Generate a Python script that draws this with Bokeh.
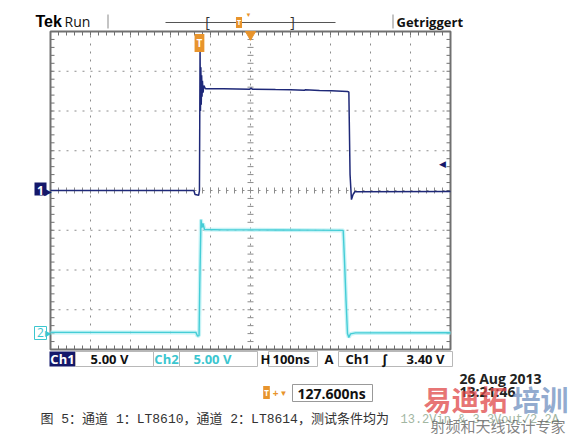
from bokeh.plotting import figure
from bokeh.models import Label, BoxAnnotation, Range1d
from bokeh.embed import file_html
from bokeh.resources import INLINE
import numpy as np

ns_per_div = 100.0            # H 100ns
trigger_to_centre_ns = 127.6  # 127.600ns
volts_per_div = 5.0           # Ch1 / Ch2 5.00 V
ch2_ref_div = -3.57           # Ch2 ground marker, divisions from screen centre
ch1_trig_level = 3.40         # A Ch1 3.40 V

# Channel 1 (LT8610 switch node), time in ns relative to trigger, volts
ch1_t = [-372.4, -14, -11, -2, 0, 1.5, 2.5, 3.5, 4.5, 5.5, 6.5, 7.5, 9, 11, 15,
         60, 126, 129, 132, 190, 228, 262, 264, 300, 330, 370, 373.5, 376.5,
         380, 384, 388.5, 627.6]
ch1_v = [0.0, 0.0, -0.5, -0.6, 0.0, 17.6, 10.0, 15.5, 10.8, 14.5, 11.8, 13.8, 12.3, 13.2, 12.8,
         12.8, 12.75, 12.9, 12.75, 12.7, 12.67, 12.6, 12.66, 12.58, 12.54, 12.45, 12.4, 2.0,
         -1.15, -0.5, -0.15, -0.12]

# Channel 2 (LT8614 switch node)
ch2_t = [-372.4, -9, -4.9, -1, 0.8, 3.8, 6.3, 8.8, 12.6, 60, 127.6, 200, 280, 357.6,
         359.4, 362.6, 366.4, 370.1, 373.4, 377.6, 390.1, 627.6]
ch2_v = [0.0, 0.0, -0.45, -0.4, 6.0, 14.2, 13.2, 13.7, 12.95, 12.9, 12.9, 12.88, 12.86, 12.83,
         12.8, 9.06, 4.0, -0.13, -0.63, -0.19, -0.06, -0.05]

# ---------------- layout of the screen ----------------
W, H = 573, 436
GX0, GX1, GY0, GY1 = 50, 450, 31, 349   # graticule box in page pixels

x0 = trigger_to_centre_ns - 5 * ns_per_div
x1 = trigger_to_centre_ns + 5 * ns_per_div
y0, y1 = -4 * volts_per_div, 4 * volts_per_div
kx = (x1 - x0) / (GX1 - GX0)
ky = (y1 - y0) / (GY1 - GY0)

p = figure(width=W, height=H,
           x_range=Range1d(x0 - GX0 * kx, x1 + (W - GX1) * kx),
           y_range=Range1d(y0 - (H - GY1) * ky, y1 + GY0 * ky),
           output_backend="svg", toolbar_location=None,
           x_axis_location=None, y_axis_location=None, min_border=0)
p.grid.visible = False
p.outline_line_color = None
p.background_fill_color = "white"
p.border_fill_color = "white"

x_major = np.arange(x0, x1 + 1, ns_per_div)
x_minor = np.arange(x0, x1 + 1, ns_per_div / 5)
y_major = np.arange(y0, y1 + 0.1, volts_per_div)
y_minor = np.arange(y0, y1 + 0.1, volts_per_div / 5)

GRID = "#8c8c8c"
EDGE = "#707070"
# dotted division lines
p.segment(x0=x_major[1:-1], y0=[y0] * 9, x1=x_major[1:-1], y1=[y1] * 9,
          line_color=GRID, line_dash="2 6", line_width=1)
p.segment(x0=[x0] * 7, y0=y_major[1:-1], x1=[x1] * 7, y1=y_major[1:-1],
          line_color=GRID, line_dash="2 6", line_width=1)
# inward ticks on the frame edges (4 px long)
tx, ty = 4 * kx, 4 * ky
p.segment(x0=x_minor, y0=[y1] * len(x_minor), x1=x_minor, y1=[y1 - ty] * len(x_minor),
          line_color=EDGE, line_width=1)
p.segment(x0=x_minor, y0=[y0] * len(x_minor), x1=x_minor, y1=[y0 + ty] * len(x_minor),
          line_color=EDGE, line_width=1)
p.segment(x0=[x0] * len(y_minor), y0=y_minor, x1=[x0 + tx] * len(y_minor), y1=y_minor,
          line_color=EDGE, line_width=1)
p.segment(x0=[x1] * len(y_minor), y0=y_minor, x1=[x1 - tx] * len(y_minor), y1=y_minor,
          line_color=EDGE, line_width=1)
# centre-line tick marks
p.scatter(x_minor, [0.0] * len(x_minor), marker="dash", angle=np.pi / 2, size=6,
          line_color=GRID, line_width=1)
p.scatter([trigger_to_centre_ns] * len(y_minor), y_minor, marker="dash", size=6,
          line_color=GRID, line_width=1)
# frame
p.quad(left=[x0], right=[x1], bottom=[y0], top=[y1], fill_alpha=0,
       line_color=EDGE, line_width=2)

# ---------------- traces ----------------
ch2_plot = [v + ch2_ref_div * volts_per_div for v in ch2_v]
p.line(ch2_t, ch2_plot, line_color="#aeeef2", line_width=4, line_alpha=0.7)
p.line(ch2_t, ch2_plot, line_color="#45cdd6", line_width=1.4)
p.line(ch1_t, ch1_v, line_color="#1e2878", line_width=1.5)

ORANGE = "#e8942c"
NAVY = "#14186a"
CYAN = "#3cc6cf"

# expansion point marker at top centre
p.scatter([trigger_to_centre_ns], [y1 - 3 * ky], marker="inverted_triangle", size=10,
          fill_color=ORANGE, line_color=ORANGE)


def lab(text, X, Y, size="13px", color="#111", bold=False, align="left",
        font="Open Sans", bg=None, border=None, padding=0, alpha=1.0,
        x_data=None, y_data=None):
    kw = dict(text=text, text_font=font, text_font_size=size, text_color=color,
              text_font_style="bold" if bold else "normal", text_align=align,
              text_baseline="middle", text_alpha=alpha)
    if x_data is None:
        kw.update(x=X, x_units="screen")
    else:
        kw.update(x=x_data, x_units="data")
    if y_data is None:
        kw.update(y=H - Y, y_units="screen")
    else:
        kw.update(y=y_data, y_units="data")
    if bg is not None:
        kw.update(background_fill_color=bg)
    if border is not None:
        kw.update(border_line_color=border)
    if padding:
        kw.update(padding=padding)
    p.add_layout(Label(**kw))


def box(X0, X1, Y0, Y1, fill=None, line=None, lw=1):
    kw = dict(left=X0, right=X1, top=H - Y0, bottom=H - Y1,
              left_units="screen", right_units="screen",
              top_units="screen", bottom_units="screen",
              line_width=lw)
    if fill is None:
        kw.update(fill_alpha=0)
    else:
        kw.update(fill_color=fill, fill_alpha=1)
    if line is None:
        kw.update(line_alpha=0)
    else:
        kw.update(line_color=line, line_alpha=1)
    p.add_layout(BoxAnnotation(**kw))


# ---------------- top status line ----------------
lab("Tek", 35, 21, size="16px", bold=True, font="Liberation Sans", color="#000")
lab("Run", 64, 21, size="14px", color="#111")
box(107, 108, 14, 28, fill="#8a8a8a")
box(165, 335, 21.5, 22.5, fill="#555555")
lab("[", 207, 21, size="14px", align="center", color="#333")
lab("]", 292, 21, size="14px", align="center", color="#333")
lab("T", 238.5, 22, size="7px", bold=True, align="center", color="white", bg=ORANGE, padding=1)
lab("▼", 248, 14, size="6px", align="center", color=ORANGE)
box(392, 393, 14, 28, fill="#8a8a8a")
lab("Getriggert", 396, 21, size="13px", bold=True, color="#111")

# trigger-point marker in the graticule
lab("T", 0, 42.5, size="10px", bold=True, align="center", color="white", bg=ORANGE,
    padding=2, x_data=0.0)

# channel ground markers (boxes + pointer)
box(34, 46, 182, 195, fill=NAVY)
lab("1", 40, 0, size="12px", bold=True, align="center", color="white", y_data=0.0)
lab("▶", 47, 0, size="10px", align="center", color=NAVY, y_data=0.0)
box(34, 46, 326, 339, fill="white", line=CYAN)
lab("2", 40, 0, size="12px", align="center", color=CYAN,
    y_data=ch2_ref_div * volts_per_div)
lab("▶", 47.5, 0, size="8px", align="center", color=CYAN, y_data=ch2_ref_div * volts_per_div)
# ch1 trigger level arrow
lab("◀", 442, 0, size="9px", align="center", color=NAVY, y_data=ch1_trig_level)

# ---------------- bottom status bar ----------------
box(49, 75, 351, 366, fill=NAVY)
box(75, 153, 351, 366, line="#b8b8b8")
box(153, 179, 351, 366, line="#b8b8b8")
box(179, 257, 351, 366, line="#b8b8b8")
box(268, 317, 351, 366, line="#b8b8b8")
box(338, 452, 351, 366, line="#b8b8b8")
lab("Ch1", 62, 358.5, size="13px", bold=True, align="center", color="white")
lab("5.00 V", 90, 358.5, size="13px", bold=True, color="#111")
lab("Ch2", 166, 358.5, size="13px", bold=True, align="center", color=CYAN)
lab("5.00 V", 193, 358.5, size="13px", bold=True, color=CYAN)
lab("H", 260, 358.5, size="13px", bold=True, color="#111")
lab("100ns", 272, 358.5, size="13px", bold=True, color="#111")
lab("A", 324, 358.5, size="13px", bold=True, color="#111")
lab("Ch1", 345, 358.5, size="13px", bold=True, color="#111")
lab("∫", 384, 358.5, size="13px", bold=True, align="center", color="#111")
lab("3.40 V", 406, 358.5, size="13px", bold=True, color="#111")

lab("T", 266, 392, size="8px", bold=True, align="center", color="white", bg=ORANGE, padding=1)
lab("+", 275, 392, size="10px", bold=True, align="center", color=ORANGE)
lab("▼", 283, 392, size="8px", align="center", color=ORANGE)
box(292, 372, 384, 401, line="#999999")
lab("127.600ns", 297, 392.5, size="14px", bold=True, color="#111")
lab("26 Aug 2013", 459, 378, size="14px", bold=True, color="#222")
lab("13:21:46", 459, 391, size="14px", bold=True, color="#222")

# ---------------- caption & watermark ----------------
CAP_FONT = "'Liberation Mono', 'Noto Sans CJK SC'"
lab("图 5：通道 1：LT8610，通道 2：LT8614，测试条件均为", 40, 419, size="13px",
    color="#333", font=CAP_FONT)
lab("13.2Vin & 3.3Vout/2.2A", 400, 419, size="12px", color="#a2b6a2", font=CAP_FONT)
lab("易迪拓", 423, 398, size="28px", bold=True, color="#e04848", alpha=0.75,
    font="Noto Sans CJK SC")
lab("培训", 512, 398, size="28px", bold=True, color="#6f8fc0", alpha=0.75,
    font="Noto Sans CJK SC")
lab("射频和天线设计专家", 430, 425, size="15px", color="#5a5a5a", alpha=0.75,
    font="Noto Sans CJK SC")

open("out.html", "w").write(file_html(p, INLINE))
